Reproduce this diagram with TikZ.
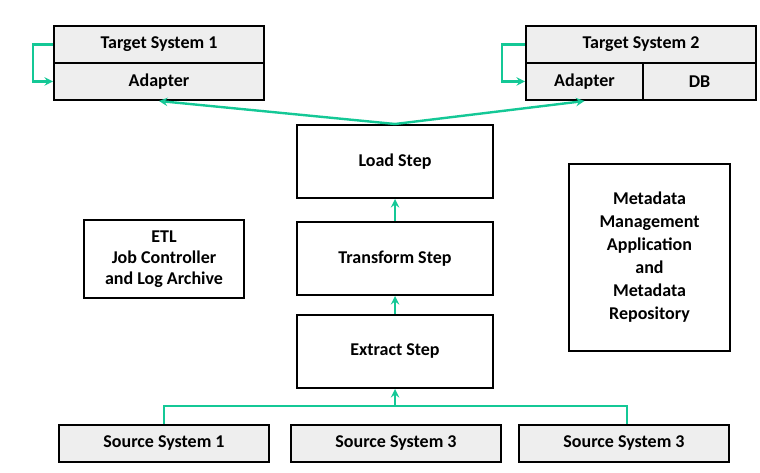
\documentclass[tikz,border=0pt]{standalone}
\usepackage{fontspec}
\setmainfont{Carlito}
\usetikzlibrary{
  calc
}
\definecolor{flowgreen}{RGB}{20,200,150}
\definecolor{boxgray}{RGB}{238,238,238}
\tikzset{
  every node/.append style={
    font=\fontsize{13.5}{16}\selectfont\bfseries,
    inner sep=0pt
  },
  sysbox/.style={
    draw=black,
    line width=1.5pt,
    fill=boxgray,
    minimum height=27.75pt
  },
  stepbox/.style={
    draw=black,
    line width=1.5pt,
    fill=white,
    minimum width=147pt,
    minimum height=54.75pt
  },
  infobox/.style={
    draw=black,
    line width=1.2pt,
    fill=white,
    align=center
  },
  flow/.style={
    draw=flowgreen,
    line width=1.8pt,
    ->,
    >=stealth
  },
  flow line/.style={
    draw=flowgreen,
    line width=1.8pt
  }
}

\begin{document}
\begin{tikzpicture}[x=0.75pt,y=-0.75pt]
\useasboundingbox (0,0) rectangle (760,473);
% target systems
\node[sysbox,minimum width=157.5pt] (t1) at (159,44.5) {Target System 1};
\node[sysbox,minimum width=157.5pt] (a1) at (159,81.5) {Adapter};
\node[sysbox,minimum width=172.5pt] (t2) at (641,44.5) {Target System 2};
\node[sysbox,minimum width=87.75pt] (a2) at (584.5,81.5) {Adapter};
\node[sysbox,minimum width=84.75pt] (db) at (699.5,81.5) {DB};
% etl steps
\node[stepbox] (load) at (395,161.5) {Load Step};
\node[stepbox] (transform) at (395,258.5) {Transform Step};
\node[stepbox] (extract) at (395,351.5) {Extract Step};
% side boxes
\node[infobox,minimum width=120pt,minimum height=58.5pt,
  font=\fontsize{13.5}{15.75}\selectfont\bfseries] (etl) at (164,259)
  {ETL\\Job Controller\\and Log Archive};
\node[infobox,minimum width=120.75pt,minimum height=140.25pt,
  font=\fontsize{13.5}{17.25}\selectfont\bfseries] (meta) at (649.5,257.5)
  {Metadata\\Management\\Application\\and\\Metadata\\Repository};
% source systems
\node[sysbox,minimum width=157.5pt] (s1) at (164,443.5) {Source System 1};
\node[sysbox,minimum width=157.5pt] (s2) at (396,443.5) {Source System 3};
\node[sysbox,minimum width=157.5pt] (s3) at (624,443.5) {Source System 3};
% flows
\coordinate (bus) at (395,406);
\path[flow line] (s1.north) |- (bus) -| ([xshift=2.25pt]s3.north);
\path[flow] (bus) -- (extract.south);
\path[flow] (extract.north) -- (transform.south);
\path[flow] (transform.north) -- (load.south);
\path[flow] (load.north) -- (a1.south);
\path[flow] (load.north) -- (a2.south);
\path[flow] (t1.west) -- ++(-20,0) |- (a1.west);
\path[flow] (t2.west) -- ++(-23,0) |- (a2.west);
\end{tikzpicture}
\end{document}
